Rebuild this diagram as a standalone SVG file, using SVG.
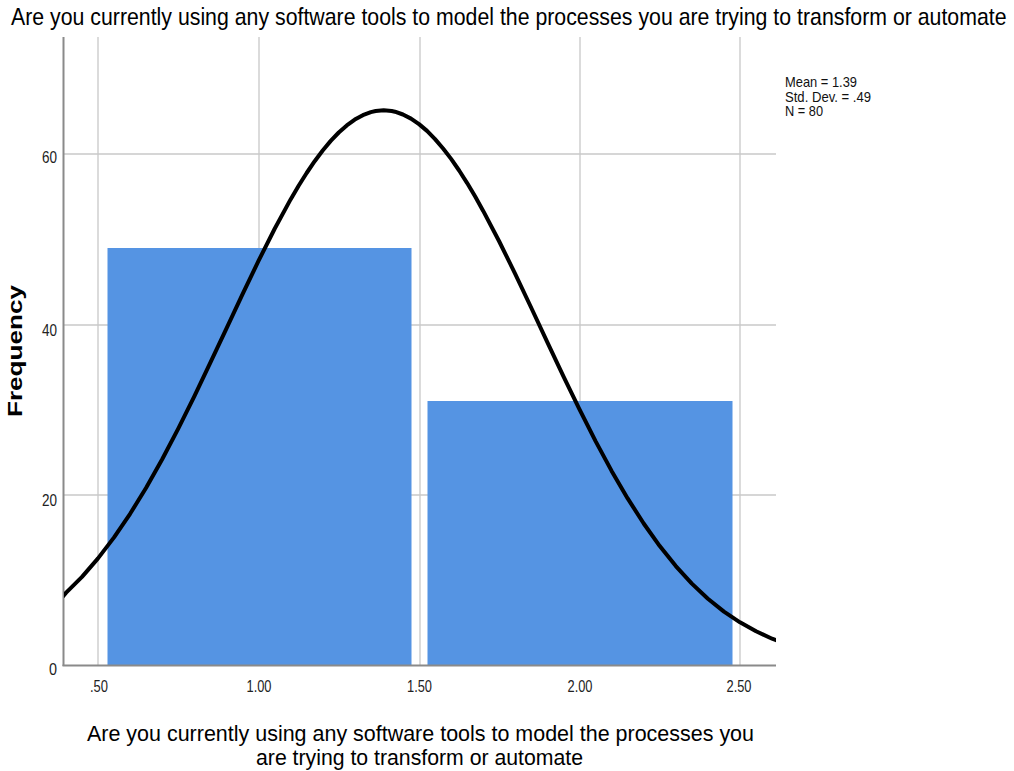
<svg xmlns="http://www.w3.org/2000/svg" width="1014" height="771" viewBox="0 0 1014 771">
  <style>
    .grid { stroke: #c8c8c8; stroke-width: 1.3; }
    .axis { stroke: #8a8a8a; stroke-width: 2; }
    .bar { fill: #5594e3; }
    .tick { font-family: "Liberation Sans", Arial, sans-serif; font-size: 17px; fill: #222; }
    .legend { font-family: "Liberation Sans", Arial, sans-serif; font-size: 14.5px; fill: #111; }
    .title { font-family: "Liberation Sans", Arial, sans-serif; font-size: 24px; fill: #000; }
    .xlabel { font-family: "Liberation Sans", Arial, sans-serif; font-size: 22px; fill: #000; text-anchor: middle; }
    .ylabel { font-family: "Liberation Sans", Arial, sans-serif; font-size: 20px; font-weight: bold; fill: #000; text-anchor: middle; }
    .curve { fill: none; stroke: #000; stroke-width: 4; stroke-linejoin: round; stroke-linecap: round; }
  </style>
  <defs>
    <clipPath id="plotArea">
      <rect x="64" y="30" width="712" height="636"/>
    </clipPath>
  </defs>
  <rect width="1014" height="771" fill="#fff"/>

  <!-- chart title, horizontally condensed -->
  <text class="title" transform="translate(11,25) scale(0.871,1)" x="0" y="0" textLength="1143" lengthAdjust="spacingAndGlyphs">Are you currently using any software tools to model the processes you are trying to transform or automate</text>

  <!-- gridlines -->
  <g id="gridlines">
    <line class="grid" x1="98" y1="37" x2="98" y2="665"/>
    <line class="grid" x1="259" y1="37" x2="259" y2="665"/>
    <line class="grid" x1="420" y1="37" x2="420" y2="665"/>
    <line class="grid" x1="580" y1="37" x2="580" y2="665"/>
    <line class="grid" x1="740" y1="37" x2="740" y2="665"/>
    <line class="grid" x1="64" y1="154" x2="776" y2="154"/>
    <line class="grid" x1="64" y1="325" x2="776" y2="325"/>
    <line class="grid" x1="64" y1="495" x2="776" y2="495"/>
  </g>

  <!-- histogram bars -->
  <g id="bar-1"><rect class="bar" x="107.5" y="248" width="304" height="417"/></g>
  <g id="bar-2"><rect class="bar" x="427.5" y="401" width="305" height="264"/></g>

  <!-- axes -->
  <g id="axes">
    <line class="axis" x1="63.5" y1="37" x2="63.5" y2="666"/>
    <line class="axis" x1="62.5" y1="665.5" x2="776" y2="665.5"/>
  </g>

  <!-- y tick labels -->
  <g id="y-ticks" text-anchor="end">
    <text class="tick" x="57" y="675" textLength="8" lengthAdjust="spacingAndGlyphs">0</text>
    <text class="tick" x="57" y="505.5" textLength="15" lengthAdjust="spacingAndGlyphs">20</text>
    <text class="tick" x="57" y="335.5" textLength="15" lengthAdjust="spacingAndGlyphs">40</text>
    <text class="tick" x="57" y="163" textLength="15" lengthAdjust="spacingAndGlyphs">60</text>
  </g>

  <!-- x tick labels -->
  <g id="x-ticks" text-anchor="middle">
    <text class="tick" x="99" y="692" textLength="18" lengthAdjust="spacingAndGlyphs">.50</text>
    <text class="tick" x="259" y="692" textLength="25" lengthAdjust="spacingAndGlyphs">1.00</text>
    <text class="tick" x="419.5" y="692" textLength="25" lengthAdjust="spacingAndGlyphs">1.50</text>
    <text class="tick" x="580" y="692" textLength="25" lengthAdjust="spacingAndGlyphs">2.00</text>
    <text class="tick" x="739" y="692" textLength="25" lengthAdjust="spacingAndGlyphs">2.50</text>
  </g>

  <!-- fitted normal curve: mean 1.39, sd .49, N 80 -->
  <g id="connectors">
    <polyline class="curve" clip-path="url(#plotArea)" points="60,600 65.9,592.9 82,576.9 98,558.4 114.05,537.4 130.1,513.8 146.15,487.7 162.2,459.2 178.25,428.6 194.3,396.4 210.35,362.7 226.4,328.6 242.45,294.4 258.5,260.9 274.55,229 290.6,199.4 298.63,185.7 306.65,173 314.68,161.2 322.7,150.5 330.73,140.9 338.75,132.5 346.78,125.4 354.8,119.6 362.83,115.2 370.85,112.1 375.67,111 383.7,110.3 391.7,111 394.93,111.7 402.95,114.5 410.98,118.6 419,124.1 427.03,130.9 435.05,139.1 443.08,148.5 451.1,158.9 459.13,170.5 467.15,183.1 475.18,196.6 483.2,210.9 499.25,241.5 515.3,274.1 531.35,308 547.4,342.3 563.45,376.3 579.5,409.4 595.55,441.1 611.6,470.9 627.65,498.4 643.7,523.5 659.75,546.1 675.8,566.1 691.85,583.6 707.9,598.7 723.95,611.6 740,622.3 756.05,631.3 772.1,638.7 780,641.5"/>
  </g>

  <!-- statistics legend -->
  <g id="legend">
    <text class="legend" x="785" y="87" textLength="72" lengthAdjust="spacingAndGlyphs">Mean = 1.39</text>
    <text class="legend" x="785" y="101.5" textLength="86" lengthAdjust="spacingAndGlyphs">Std. Dev. = .49</text>
    <text class="legend" x="785" y="116" textLength="38" lengthAdjust="spacingAndGlyphs">N = 80</text>
  </g>

  <!-- axis titles -->
  <g id="x-title">
    <text class="xlabel" x="420.5" y="741" textLength="667" lengthAdjust="spacingAndGlyphs">Are you currently using any software tools to model the processes you</text>
    <text class="xlabel" x="419.5" y="765" textLength="327" lengthAdjust="spacingAndGlyphs">are trying to transform or automate</text>
  </g>
  <g id="y-title">
    <text class="ylabel" transform="translate(22,351) rotate(-90)" textLength="132" lengthAdjust="spacingAndGlyphs">Frequency</text>
  </g>
</svg>
